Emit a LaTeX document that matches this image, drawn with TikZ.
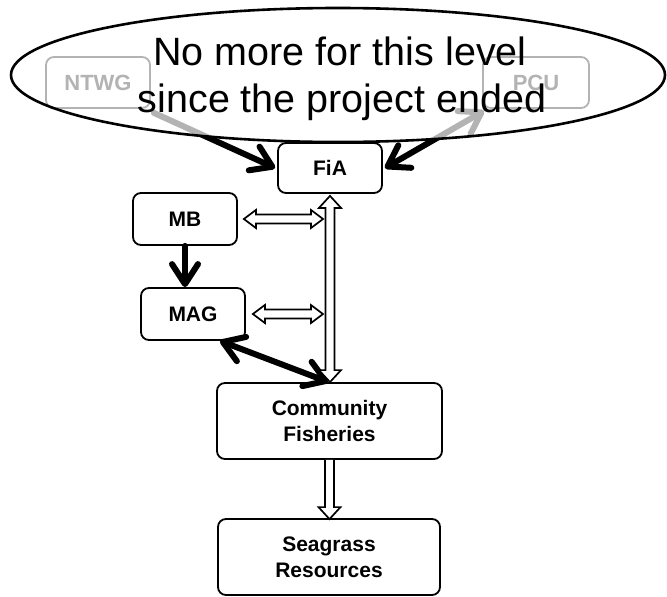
\documentclass[tikz,border=0pt]{standalone}
\usepackage{fontspec}
\setmainfont{Liberation Sans}
\usetikzlibrary{arrows.meta,calc}

\tikzset{
  box/.style={draw, line width=1.8pt, rounded corners=8pt, inner sep=0pt,
    align=center, font=\bfseries\fontsize{21}{26}\selectfont},
  smallbox/.style={box, font=\bfseries\fontsize{22}{26}\selectfont},
  barb/.tip={Straight Barb[length=20pt, width=26pt, round]},
  thickarrow/.style={line width=6pt, line cap=round, arrows={-barb}},
  thickboth/.style={line width=6pt, line cap=round, arrows={barb-barb}},
  hollow/.style={draw, line width=1.7pt, fill=white, line join=miter},
  cloud text/.style={font=\fontsize{39.5}{47}\selectfont, anchor=base}
}

\begin{document}
\begin{tikzpicture}[x=1pt, y=-1pt]
\useasboundingbox (0,0) rectangle (667,597);

% boxes of the former project level
\node[smallbox, minimum width=104pt, minimum height=51pt] (ntwg) at (98,82.5) {NTWG};
\node[smallbox, minimum width=106pt, minimum height=51pt] (pcu) at (536,82.5) {PCU};

% management chain
\node[box, minimum width=104pt, minimum height=50pt] (fia) at (330,168) {FiA};
\node[box, minimum width=104pt, minimum height=52pt] (mb) at (185,219) {MB};
\node[box, minimum width=104pt, minimum height=52pt] (mag) at (193,314) {MAG};
\node[box, minimum width=225pt, minimum height=76pt] (cf) at (329.5,421) {Community\\Fisheries};
\node[box, minimum width=222pt, minimum height=76pt] (sr) at (329,557) {Seagrass\\Resources};

% links from the project level
\draw[thickarrow] ([shift={(3pt,-4pt)}]ntwg.south east) -- ([xshift=-2pt]fia.west);
\draw[thickboth] ([xshift=2pt]fia.east) -- ([shift={(2pt,-2pt)}]pcu.south west);

% MB to MAG and MAG to the community fisheries
\draw[thickarrow] (mb.south) -- (mb.south |- mag.north);
\draw[thickboth] ([xshift=27pt]mag.south) -- ([xshift=-1pt]cf.north);

% hollow arrow between FiA and the community fisheries
\draw[hollow] let \p1=([yshift=-2pt]fia.south), \p2=(fia.south |- cf.north) in
  (\x1,\y1) -- (\x1+11pt,\y1-12pt) -- (\x1+4.5pt,\y1-12pt) -- (\x1+4.5pt,\y2+12pt)
  -- (\x1+11pt,\y2+12pt) -- (\x1,\y2) -- (\x1-11pt,\y2+12pt) -- (\x1-4.5pt,\y2+12pt)
  -- (\x1-4.5pt,\y1-12pt) -- (\x1-11pt,\y1-12pt) -- cycle;

% hollow arrows from MB and MAG to the FiA link
\coordinate (mbend) at ([xshift=-7pt]mb.east -| fia.south);
\coordinate (magend) at ([xshift=-7pt]mag.east -| fia.south);
\draw[hollow] let \p1=([xshift=6pt]mb.east), \p2=(mbend) in
  (\x1,\y1) -- (\x1+12pt,\y1+9pt) -- (\x1+12pt,\y1+4.5pt) -- (\x2-12pt,\y1+4.5pt)
  -- (\x2-12pt,\y1+9pt) -- (\x2,\y1) -- (\x2-12pt,\y1-9pt) -- (\x2-12pt,\y1-4.5pt)
  -- (\x1+12pt,\y1-4.5pt) -- (\x1+12pt,\y1-9pt) -- cycle;
\draw[hollow] let \p1=([xshift=7pt]mag.east), \p2=(magend) in
  (\x1,\y1) -- (\x1+12pt,\y1+9pt) -- (\x1+12pt,\y1+4.5pt) -- (\x2-12pt,\y1+4.5pt)
  -- (\x2-12pt,\y1+9pt) -- (\x2,\y1) -- (\x2-12pt,\y1-9pt) -- (\x2-12pt,\y1-4.5pt)
  -- (\x1+12pt,\y1-4.5pt) -- (\x1+12pt,\y1-9pt) -- cycle;

% hollow arrow from the community fisheries to the resources
\draw[hollow] let \p1=(cf.south), \p2=([yshift=-1pt]cf.south |- sr.north) in
  (\x1-4.5pt,\y1) -- (\x1-4.5pt,\y2+12pt) -- (\x1-11pt,\y2+12pt) -- (\x1,\y2)
  -- (\x1+11pt,\y2+12pt) -- (\x1+4.5pt,\y2+12pt) -- (\x1+4.5pt,\y1);

% veil over the former project level
\draw[line width=2.6pt, fill=white, fill opacity=0.7, draw opacity=1]
  (338,75) ellipse [x radius=327pt, y radius=67pt];
\node[cloud text] (note1) at (340,65) {No more for this level};
\node[cloud text] (note2) at (342,112) {since the project ended};
\end{tikzpicture}
\end{document}
